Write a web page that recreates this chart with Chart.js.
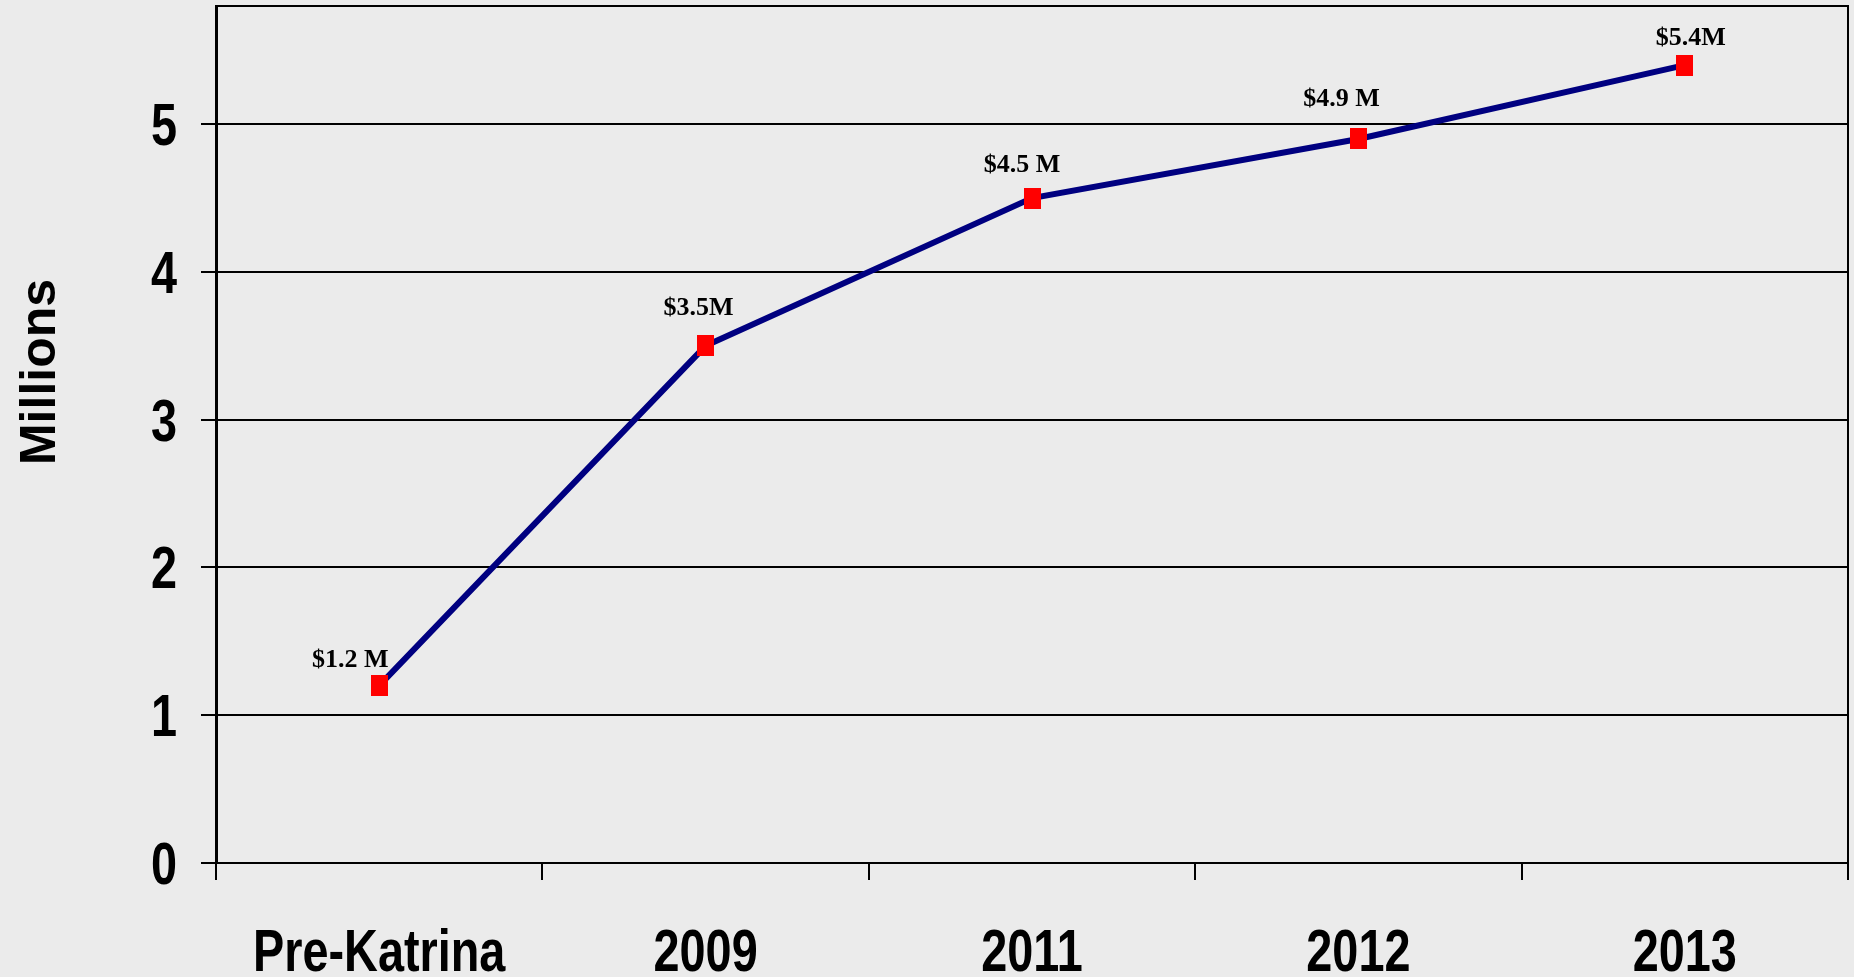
<!DOCTYPE html>
<html>
<head>
<meta charset="utf-8">
<script src="https://cdn.jsdelivr.net/npm/chart.js@4/dist/chart.umd.min.js"></script>
<style>
  html,body{margin:0;padding:0;background:#ebebeb;overflow:hidden}
  #wrap{width:1854px;height:977px;position:relative}
</style>
</head>
<body>
<div id="wrap"><canvas id="c" width="1854" height="977"></canvas></div>
<script>
// funding by period, in millions
const periods=['Pre-Katrina','2009','2011','2012','2013'];
const amounts=[1.2,3.5,4.5,4.9,5.4];
const amountLabels=['$1.2 M','$3.5M','$4.5 M','$4.9 M','$5.4M'];
const yTicks=[0,1,2,3,4,5];
const yTitle='Millions';

const SANS='"Liberation Sans",Arial,sans-serif';
const BG='#ebebeb', INK='#000';

// red marker, slightly taller than wide
const mark=document.createElement('canvas'); mark.width=17; mark.height=21;
(function(){const g=mark.getContext('2d');g.fillStyle='#ff0000';g.fillRect(0,0,17,21);})();

// text squeezed horizontally to get a narrow bold face
function narrow(g,t,x,y,align,sx){g.save();g.translate(x,y);g.scale(sx,1);g.textAlign=align;g.fillText(t,0,0);g.restore();}

const bgPlugin={id:'bg',beforeDraw(ch){const g=ch.ctx;g.save();g.fillStyle=BG;g.fillRect(0,0,ch.width,ch.height);g.restore();}};

// top and right edges of the plot frame
const framePlugin={id:'frame',beforeDatasetsDraw(ch){
  const a=ch.chartArea,g=ch.ctx;g.save();g.strokeStyle=INK;g.lineWidth=2;
  g.beginPath();g.moveTo(a.left,a.top);g.lineTo(a.right,a.top);g.lineTo(a.right,a.bottom);g.stroke();g.restore();}};

// axis labels and title
const axisTextPlugin={id:'axisText',afterDraw(ch){
  const g=ch.ctx,xs=ch.scales.x,ys=ch.scales.y;g.save();g.fillStyle=INK;g.textBaseline='alphabetic';
  g.font='bold 60px '+SANS;
  periods.forEach((t,i)=>narrow(g,t,xs.getPixelForValue(i),971,'center',0.78));
  yTicks.forEach(v=>narrow(g,String(v),177,ys.getPixelForValue(v)+21,'right',0.78));
  g.font='bold 50px '+SANS;g.translate(55,372);g.rotate(-Math.PI/2);g.textAlign='center';g.fillText(yTitle,0,0);
  g.restore();}};

// value captions above each marker
const captionPlugin={id:'captions',afterDatasetsDraw(ch,args,opts){
  const meta=ch.getDatasetMeta(0),g=ch.ctx;g.save();
  g.font='bold 26px "Liberation Serif","Times New Roman",serif';g.fillStyle=INK;
  g.textAlign='center';g.textBaseline='alphabetic';
  meta.data.forEach((p,i)=>{const o=opts.offsets[i]||[0,-22];g.fillText(amountLabels[i],p.x+o[0],p.y+o[1]);});
  g.restore();}};

new Chart(document.getElementById('c'),{
  type:'line',
  data:{labels:periods,datasets:[{data:amounts,borderColor:'#000080',borderWidth:6,tension:0,
    pointStyle:mark,pointRadius:10,pointHoverRadius:10,backgroundColor:'#ff0000'}]},
  options:{
    responsive:false,animation:false,
    layout:{autoPadding:false,padding:{left:0,right:6,top:6,bottom:0}},
    plugins:{legend:{display:false},tooltip:{enabled:false},
      captions:{offsets:[[-29,-19],[-7,-31],[-10,-26],[-17,-33],[6,-20]]}},
    scales:{
      x:{offset:true,
        grid:{offset:true,drawOnChartArea:false,drawTicks:true,tickLength:17,color:INK,lineWidth:2},
        border:{display:true,color:INK,width:2},
        ticks:{display:false,autoSkip:false},
        afterFit(s){s.height=114;s.paddingLeft=0;s.paddingRight=0;}},
      y:{min:0,max:5.8,
        afterBuildTicks(s){s.ticks=yTicks.map(v=>({value:v}));},
        grid:{color:INK,lineWidth:2,tickLength:15},
        border:{display:true,color:INK,width:3},
        ticks:{display:false},
        afterFit(s){s.width=216;s.paddingTop=0;s.paddingBottom=0;}}
    }
  },
  plugins:[bgPlugin,framePlugin,axisTextPlugin,captionPlugin]
});
</script>
</body>
</html>
